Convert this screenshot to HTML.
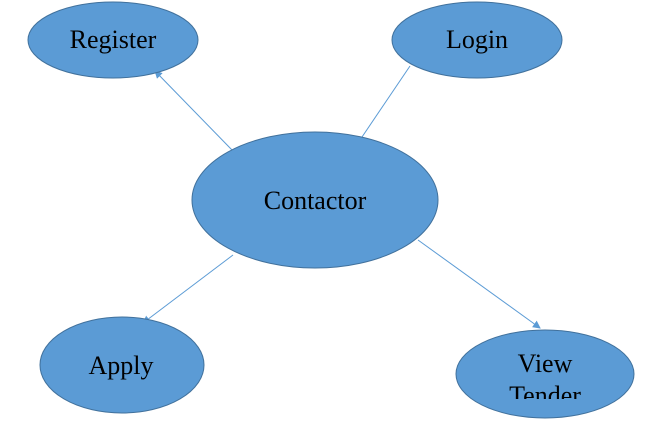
<!DOCTYPE html>
<html><head><style>
body{margin:0;background:#fff;}
svg{display:block;}
text{font-family:"Liberation Serif",serif;font-size:26px;fill:#000;text-anchor:middle;}
</style></head><body>
<svg width="649" height="422" viewBox="0 0 649 422">
<defs>
<marker id="a" markerWidth="8" markerHeight="8" refX="7" refY="4" orient="auto" markerUnits="userSpaceOnUse">
<path d="M0,0 L8,4 L0,8 z" fill="#5b9bd5"/></marker>
<clipPath id="c"><rect x="0" y="0" width="649" height="399"/></clipPath>
</defs>
<g stroke="#5b9bd5" stroke-width="1" fill="none">
<line x1="232" y1="150" x2="155" y2="71" marker-end="url(#a)"/>
<line x1="362" y1="137" x2="410" y2="66"/>
<line x1="233" y1="255" x2="143" y2="323" marker-end="url(#a)"/>
<line x1="418" y1="240" x2="540" y2="328" marker-end="url(#a)"/>
</g>
<g fill="#5b9bd5" stroke="#41719c" stroke-width="1">
<ellipse cx="113" cy="40" rx="85" ry="38"/>
<ellipse cx="477" cy="40" rx="85" ry="38"/>
<ellipse cx="315" cy="200" rx="123" ry="68"/>
<ellipse cx="122" cy="365" rx="82" ry="48"/>
<ellipse cx="545" cy="374" rx="89" ry="44"/>
</g>
<text x="113" y="48">Register</text>
<text x="477" y="48">Login</text>
<text x="315" y="209">Contactor</text>
<text x="121" y="374">Apply</text>
<text x="545" y="372">View</text>
<text x="545" y="404" clip-path="url(#c)">Tender</text>
</svg>
</body></html>
